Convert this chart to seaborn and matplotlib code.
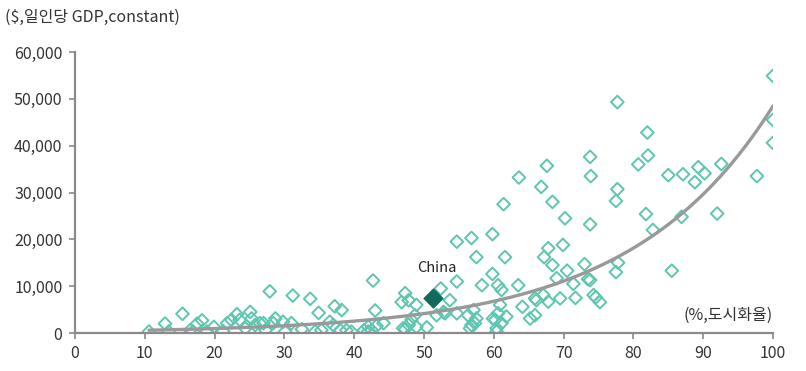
import numpy as np
import pandas as pd
import matplotlib
matplotlib.use("Agg")
import matplotlib.pyplot as plt
import seaborn as sns
from matplotlib.ticker import FuncFormatter

# ---- data ----
urban = [10.6, 12.9, 13.4, 15.4, 16.5, 16.9, 17.5, 18.2, 18.9, 19.9, 21.2, 21.8, 22.4, 23.2, 23.6,
         24.4, 25.1, 25.3, 25.8, 26.5, 27.0, 27.3, 27.9, 28.4, 28.7, 29.8, 30.1, 31.0, 31.2, 32.5,
         33.7, 34.4, 34.9, 35.3, 36.5, 37.0, 37.2, 38.0, 38.2, 38.9, 39.6,
         41.4, 42.0, 42.0, 42.5, 42.7, 43.0, 43.2, 44.2, 46.8, 47.0, 47.3, 47.3, 47.8, 47.8, 48.2,
         48.7, 48.9, 48.9, 50.4, 51.8, 52.4, 52.8, 53.0, 53.7, 54.7, 54.7, 54.7, 56.3, 56.6, 56.8,
         56.8, 57.1, 57.3, 57.5, 57.5, 58.3, 59.8, 59.8, 59.9, 60.2, 60.4, 60.4, 60.6, 60.6, 60.9,
         61.1, 61.1, 61.4, 61.6, 61.8,
         63.5, 63.6, 64.1, 65.2, 65.9, 65.9, 66.1, 66.8, 67.1, 67.2, 67.6, 67.8, 67.8, 68.4, 68.4,
         69.0, 69.5, 69.9, 70.2, 70.5, 71.4, 71.7, 73.0, 73.5, 73.8, 73.8, 73.9, 73.8, 74.3, 74.6,
         75.2, 77.5, 77.7, 77.7, 77.8, 77.5, 80.7, 81.8, 82.0, 82.1, 82.8, 85.0, 85.5, 86.9, 87.1,
         88.8, 89.3, 90.2, 92.0, 92.6, 97.7, 100.0, 100.0, 100.0]
gdp = [300, 2000, 300, 4100, 600, 300, 2000, 2700, 300, 1300, 400, 2100, 2800, 4000, 2800,
       1000, 4500, 3100, 1700, 2100, 2100, 600, 8900, 2100, 3100, 2400, 300, 2100, 8000, 800,
       7300, 300, 4300, 600, 2400, 1700, 5700, 600, 4900, 600, 300,
       600, 1300, 300, 600, 11200, 4800, 1500, 2100, 6600, 1000, 8500, 800, 7000, 1700, 2800,
       3800, 6000, 1300, 1200, 3800, 9500, 4500, 4200, 7000, 19500, 11000, 4200, 3800, 1000, 20300,
       1700, 4900, 2100, 16200, 3100, 10200, 21100, 12600, 3100, 2800, 1000, 300, 10200, 4200, 6000,
       9200, 2100, 27500, 16200, 3500,
       10200, 33200, 5600, 3100, 7400, 3800, 7000, 31200, 8100, 16200, 35700, 18100, 6700, 28000, 14500,
       11700, 7400, 18800, 24500, 13300, 10500, 7500, 14700, 11500, 11300, 37600, 33500, 23200, 8100, 7600,
       6600, 28200, 30700, 49300, 15000, 13000, 36000, 25400, 42800, 37900, 22000, 33700, 13300, 24800, 33900,
       32200, 35400, 34100, 25500, 36100, 33500, 54900, 45500, 40600]

china_label = "China"
china_urban = [51.3]
china_gdp = [7400]

x_ticks = [0, 10, 20, 30, 40, 50, 60, 70, 80, 90, 100]
y_ticks = [0, 10000, 20000, 30000, 40000, 50000, 60000]
y_title = "($,일인당 GDP,constant)"
x_title = "(%,도시화율)"

# ---- styling ----
sns.set_theme(style="white")
plt.rcParams["font.family"] = ["Noto Sans CJK KR", "DejaVu Sans"]

df = pd.DataFrame({"urban": urban, "gdp": gdp})

# exponential trendline fitted to the data (as in a spreadsheet trendline)
b, ln_a = np.polyfit(df["urban"], np.log(df["gdp"]), 1)
xs = np.linspace(min(urban), max(urban), 200)
trend = pd.DataFrame({"urban": xs, "gdp": np.exp(ln_a) * np.exp(b * xs)})

fig = plt.figure(figsize=(8.06, 3.71), dpi=100)
ax = fig.add_axes([75 / 806, 1 - 333 / 371, (773 - 75) / 806, (333 - 52) / 371])

teal = "#5EC6B0"
sns.scatterplot(data=df, x="urban", y="gdp", marker="D", s=42,
                facecolor="none", edgecolor=teal, linewidth=1.4, ax=ax, zorder=2)
sns.lineplot(data=trend, x="urban", y="gdp", color="#999999", linewidth=2.4, ax=ax, zorder=3)
sns.scatterplot(x=china_urban, y=china_gdp, marker="D", s=100, color="#0F6B5C",
                edgecolor="#0F6B5C", linewidth=0.5, ax=ax, zorder=4)
ax.text(china_urban[0] + 0.6, china_gdp[0] + 5000, china_label, ha="center", va="bottom",
        fontsize=10.5, color="#222222")

ax.set_xlim(0, 100)
ax.set_ylim(0, 60000)
ax.set_xticks(x_ticks)
ax.set_yticks(y_ticks)
ax.yaxis.set_major_formatter(FuncFormatter(lambda v, p: f"{int(v):,}"))
ax.set_xlabel("")
ax.set_ylabel("")

for s in ["top", "right"]:
    ax.spines[s].set_visible(False)
for s in ["left", "bottom"]:
    ax.spines[s].set_color("#8a8a8a")
    ax.spines[s].set_linewidth(1.6)
ax.tick_params(axis="both", which="both", direction="out", length=4, width=1.2,
               color="#8a8a8a", labelsize=11.5, labelcolor="#333333", pad=5)
ax.tick_params(left=True, bottom=True)
ax.grid(False)

fig.text(5 / 806, 1 - 17 / 371, y_title, ha="left", va="center", fontsize=11.5, color="#333333")
ax.text(100, 2000, x_title, ha="right", va="bottom", fontsize=11.5, color="#333333")

fig.savefig("out.png", dpi=100)
